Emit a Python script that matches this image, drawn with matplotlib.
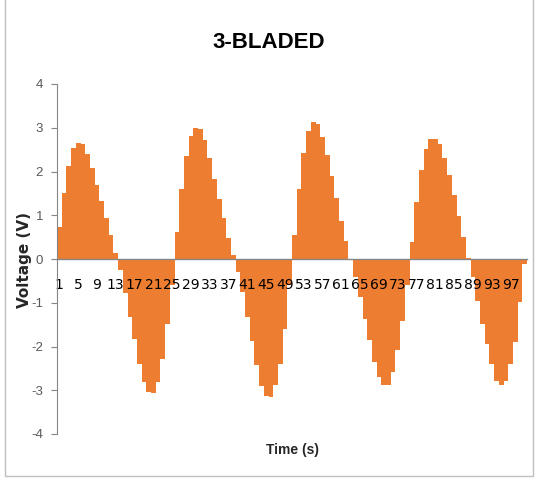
import matplotlib
matplotlib.use("Agg")
import matplotlib.pyplot as plt
from matplotlib.patches import Rectangle

# sample index (1..100) and measured voltage per sample
samples = list(range(1, 101))
voltage = [
    0.74, 1.52, 2.13, 2.53, 2.66, 2.63, 2.40, 2.07, 1.70, 1.33, 0.94, 0.54, 0.13,
    -0.25, -0.78, -1.32, -1.83, -2.40, -2.82, -3.03, -3.06, -2.80, -2.28, -1.48, -0.60,
    0.62, 1.60, 2.36, 2.82, 3.00, 2.97, 2.72, 2.32, 1.84, 1.37, 0.93, 0.48, 0.09,
    -0.30, -0.76, -1.32, -1.88, -2.42, -2.90, -3.14, -3.16, -2.89, -2.40, -1.60, -0.60,
    0.55, 1.60, 2.42, 2.93, 3.13, 3.08, 2.79, 2.38, 1.89, 1.39, 0.87, 0.42, -0.02,
    -0.40, -0.86, -1.37, -1.86, -2.36, -2.70, -2.89, -2.87, -2.59, -2.09, -1.41, -0.60,
    0.40, 1.31, 2.03, 2.51, 2.75, 2.75, 2.62, 2.32, 1.92, 1.46, 0.98, 0.50, 0.02,
    -0.40, -0.95, -1.48, -1.94, -2.40, -2.78, -2.89, -2.78, -2.40, -1.90, -0.99, -0.11,
]
xtick_vals = samples[::4]
ytick_vals = [-4, -3, -2, -1, 0, 1, 2, 3, 4]

narrow = ["Liberation Sans", "DejaVu Sans"]

fig = plt.figure(figsize=(5.39, 4.82), dpi=100)
ax = fig.add_axes([57 / 539, 48 / 482, 470 / 539, 350 / 482])

ax.bar(samples, voltage, width=1.0, color="#ED7D31", linewidth=0)

ax.set_xlim(0.5, 100.5)
ax.set_ylim(-4, 4)
ax.set_yticks(ytick_vals)
ax.set_yticklabels([str(v) for v in ytick_vals], family=narrow, fontsize=9.5, color="#595959")
ax.set_xticks(xtick_vals)
ax.set_xticklabels([str(v) for v in xtick_vals], family=narrow, fontsize=9.5, color="#404040")
ax.tick_params(axis="x", length=0, pad=14)
ax.tick_params(axis="y", length=4, width=0.8, color="#868686", pad=6)

for side in ["top", "right"]:
    ax.spines[side].set_visible(False)
ax.spines["left"].set_color("#868686")
ax.spines["bottom"].set_position(("data", 0))
ax.spines["bottom"].set_color("#868686")
ax.spines["bottom"].set_linewidth(1.0)

ax.text(0.5, -0.046, "Time (s)", transform=ax.transAxes, ha="center", va="center",
        family=narrow, fontsize=10, fontweight="bold", color="#262626")
fig.text(25 / 539, (482 - 260) / 482, "Voltage (V)", rotation=90, ha="center", va="center",
         fontsize=11, fontweight="bold", color="#262626")
fig.text(269 / 539, (482 - 42) / 482, "3-BLADED", ha="center", va="center",
         family=narrow, fontsize=16, fontweight="bold", color="#000000")

# chart frame
fig.patches.append(Rectangle((5 / 539, 6 / 482), 528 / 539, 480 / 482, transform=fig.transFigure,
                             fill=False, edgecolor="#BFBFBF", linewidth=1.0))

fig.savefig("out.png", dpi=100)
